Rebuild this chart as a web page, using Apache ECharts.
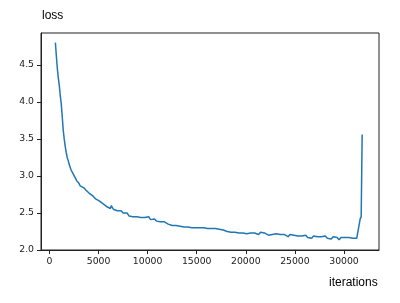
<!DOCTYPE html>
<html>
<head>
<meta charset="utf-8">
<script src="https://cdn.jsdelivr.net/npm/echarts@6/dist/echarts.min.js"></script>
<style>html,body{margin:0;padding:0;background:#fff}#c{width:400px;height:303px}</style>
</head>
<body>
<div id="c"></div>
<script>
const iterations = [600,700,800,900,1000,1100,1200,1300,1400,1500,1600,1700,1800,1900,2000,2200,2400,2600,2800,3000,3100,3300,3500,3700,3900,4100,4300,4500,4700,4900,5100,5300,5500,5700,5900,6100,6200,6300,6500,6700,6900,7100,7300,7500,7700,7900,8100,8300,8500,8700,8900,9100,9300,9500,9700,9900,10100,10300,10500,10700,10900,11100,11300,11500,11700,11900,12100,12300,12500,12700,12900,13100,13300,13500,13700,13900,14100,14300,14500,14700,14900,15100,15300,15500,15700,15900,16100,16300,16500,16700,16900,17100,17300,17500,17700,17900,18100,18300,18500,18700,18900,19100,19300,19500,19700,19900,20100,20300,20500,20700,20900,21100,21300,21500,21700,21900,22100,22300,22500,22700,22900,23100,23300,23500,23700,23900,24100,24300,24500,24700,24900,25100,25300,25500,25700,25900,26100,26300,26500,26700,26900,27100,27300,27500,27700,27900,28100,28300,28500,28700,28900,29100,29300,29500,29700,29900,30100,30300,30500,30700,30900,31100,31300,31500,31650,31700,31750,31850];
const loss = [4.80,4.62,4.45,4.32,4.22,4.08,3.97,3.80,3.62,3.50,3.40,3.32,3.25,3.21,3.16,3.08,3.03,2.98,2.93,2.90,2.87,2.88,2.84,2.81,2.79,2.76,2.74,2.72,2.69,2.68,2.66,2.65,2.62,2.61,2.58,2.59,2.56,2.60,2.55,2.56,2.53,2.52,2.53,2.50,2.49,2.50,2.46,2.48,2.45,2.47,2.45,2.46,2.44,2.42,2.44,2.43,2.45,2.41,2.40,2.42,2.39,2.40,2.38,2.40,2.38,2.37,2.35,2.36,2.33,2.35,2.33,2.34,2.32,2.33,2.31,2.32,2.31,2.32,2.30,2.31,2.30,2.31,2.30,2.29,2.30,2.28,2.29,2.27,2.29,2.28,2.29,2.27,2.28,2.26,2.27,2.26,2.25,2.26,2.24,2.25,2.24,2.25,2.23,2.24,2.23,2.25,2.22,2.24,2.23,2.21,2.23,2.22,2.21,2.24,2.22,2.23,2.21,2.20,2.22,2.21,2.19,2.22,2.20,2.21,2.19,2.21,2.20,2.18,2.21,2.19,2.20,2.18,2.19,2.17,2.19,2.18,2.20,2.17,2.18,2.16,2.19,2.17,2.18,2.16,2.18,2.17,2.19,2.16,2.17,2.15,2.18,2.16,2.17,2.14,2.17,2.15,2.17,2.16,2.17,2.16,2.16,2.17,2.16,2.17,2.42,2.40,2.45,3.56];
const xTicks = [0,5000,10000,15000,20000,25000,30000];
const yTicks = [2.0,2.5,3.0,3.5,4.0,4.5];
const yTitle = 'loss';
const xTitle = 'iterations';

const chart = echarts.init(document.getElementById('c'), null, {renderer:'canvas'});
const axisTextStyle = {color:'#222', fontFamily:'DejaVu Sans', fontSize:9.3};
chart.setOption({
  animation:false,
  backgroundColor:'#fff',
  grid:{left:41,right:21,top:33,bottom:53,show:true,borderColor:'#222',borderWidth:1,outerBoundsMode:'none'},
  xAxis:{type:'value',min:-865,max:33565,
    axisLine:{show:true,onZero:false,lineStyle:{color:'#222',width:1}},
    axisTick:{show:true,length:4,inside:false,customValues:xTicks,lineStyle:{color:'#222'}},
    axisLabel:Object.assign({customValues:xTicks,margin:7,formatter:v=>String(v)},axisTextStyle),
    splitLine:{show:false}},
  yAxis:{type:'value',min:2.0,max:4.93,
    axisLine:{show:true,onZero:false,lineStyle:{color:'#222',width:1}},
    axisTick:{show:true,length:4,inside:false,customValues:yTicks,lineStyle:{color:'#222'}},
    axisLabel:Object.assign({customValues:yTicks,margin:7,formatter:v=>v.toFixed(1)},axisTextStyle),
    splitLine:{show:false}},
  graphic:[
    {type:'text',left:42,top:10,style:{text:yTitle,font:'12px "Liberation Sans"',fill:'#000'}},
    {type:'text',left:329,top:277,style:{text:xTitle,font:'12px "Liberation Sans"',fill:'#000'}}
  ],
  series:[{type:'line',data:iterations.map((x,i)=>[x,loss[i]]),showSymbol:false,symbol:'none',
    lineStyle:{color:'#1f77b4',width:1.5},itemStyle:{color:'#1f77b4'}}]
});
</script>
</body>
</html>
